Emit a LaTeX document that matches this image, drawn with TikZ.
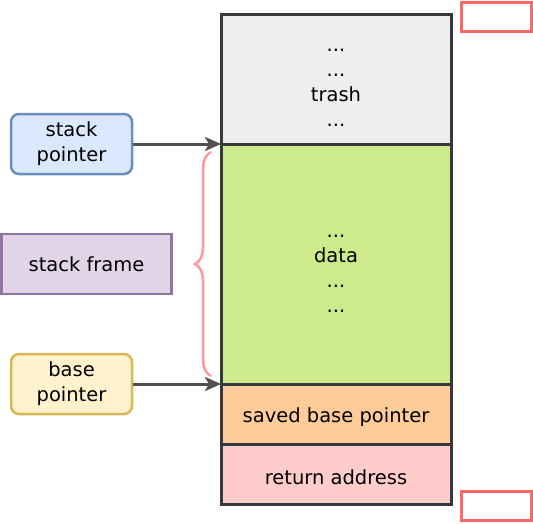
\documentclass[tikz,border=0pt]{standalone}
\usepackage{fontspec}
\setmainfont{DejaVu Sans}
\usetikzlibrary{arrows.meta,decorations.pathreplacing}
\definecolor{frameline}{HTML}{36393D}
\definecolor{trashfill}{HTML}{EEEEEE}
\definecolor{datafill}{HTML}{CDEB8B}
\definecolor{savedfill}{HTML}{FFCC99}
\definecolor{retfill}{HTML}{FFCCCC}
\definecolor{markred}{HTML}{FF6666}
\definecolor{bracepink}{HTML}{FF9999}
\definecolor{arrowgray}{HTML}{505050}

\begin{document}
\begin{tikzpicture}[x=1pt,y=-1pt,font=\fontsize{19.5}{25}\selectfont,
 cell/.style={draw=frameline,line width=3pt,minimum width=230pt,outer sep=0pt,inner sep=0pt},
 celltext/.style={align=center,inner sep=0pt},
 label/.style={rounded corners=8pt,line width=2.5pt,minimum width=121pt,minimum height=60pt,align=center,inner sep=2pt},
 pointer/.style={-{Stealth[length=16pt,width=14pt,inset=4pt]},line width=3pt,arrowgray},
 marker/.style={draw=markred,line width=3pt,fill=white,minimum width=70pt,minimum height=29pt,inner sep=0pt}]
\useasboundingbox (0,0) rectangle (533,523);
% the stack, top to bottom
\node[cell,fill=trashfill,minimum height=130pt] (trash) at (336,79) {};
\node[cell,fill=datafill,minimum height=240pt] (data) at (336,264) {};
\node[cell,fill=savedfill,minimum height=60pt] (saved) at (336,414) {};
\node[cell,fill=retfill,minimum height=60pt] (ret) at (336,474) {};
\node[celltext] (trashtext) at ([yshift=-9pt]trash.center) {...\\...\\trash\\...};
\node[celltext] (datatext) at ([yshift=-10pt]data.center) {...\\data\\...\\...};
\node[celltext] (savedtext) at ([yshift=-3pt]saved.center) {saved base pointer};
\node[celltext] (rettext) at ([yshift=-3pt]ret.center) {return address};

% pointers
\node[label,draw={rgb,255:red,108;green,142;blue,191},fill={rgb,255:red,218;green,232;blue,252}] (sp) at (71.5,144) {stack\\pointer};
\node[label,rounded corners=0pt,minimum width=170pt,draw={rgb,255:red,150;green,115;blue,166},fill={rgb,255:red,225;green,213;blue,231}] (frame) at (86.5,264) {stack frame};
\node[label,draw={rgb,255:red,214;green,182;blue,86},fill={rgb,255:red,255;green,242;blue,204}] (bp) at (71.5,384) {base\\pointer};
\draw[pointer] (sp.east)--(sp.east-|trash.west);
\draw[pointer] (bp.east)--(bp.east-|data.west);
\draw[bracepink,line width=2.5pt,decorate,decoration={brace,amplitude=16pt}] (211,376)--(211,152);

\node[marker] (mtop) at (496,16.5) {};
\node[marker] (mbot) at (496,506) {};
\end{tikzpicture}
\end{document}
